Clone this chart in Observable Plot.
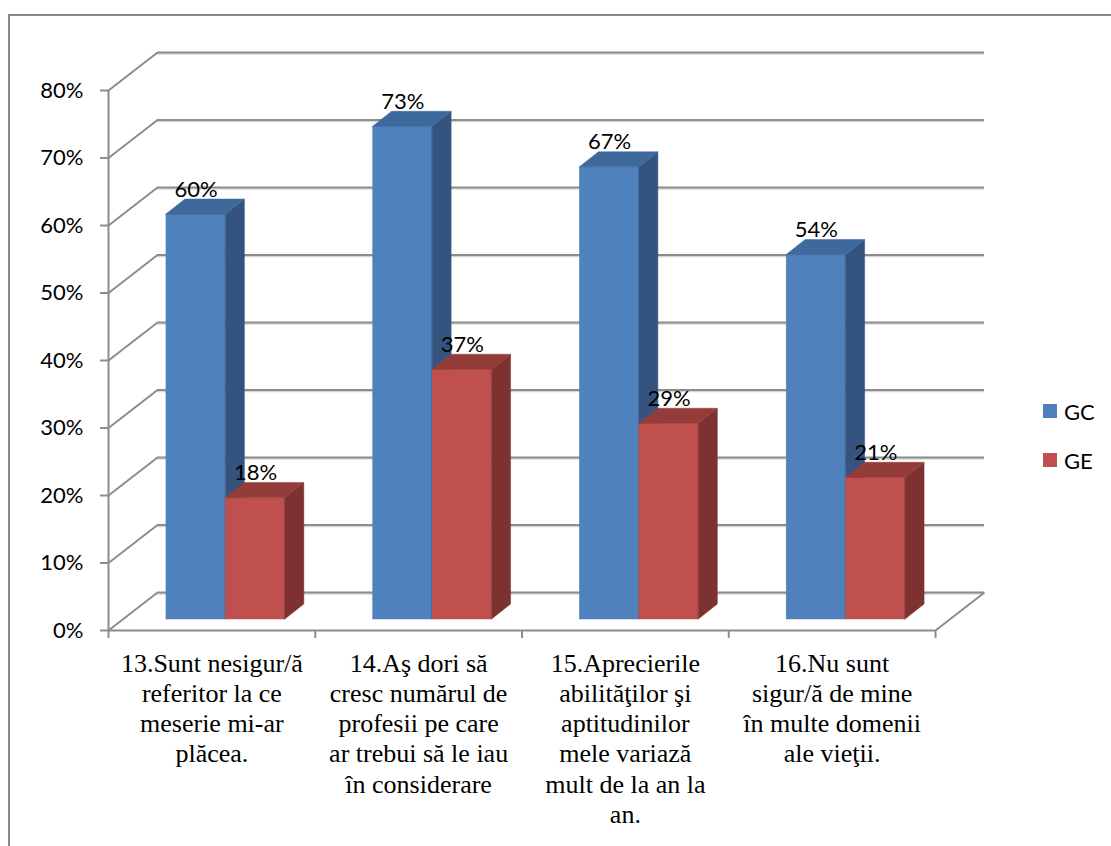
<!DOCTYPE html>
<html>
<head>
<meta charset="utf-8">
<script src="https://cdn.jsdelivr.net/npm/d3@7"></script>
<script src="https://cdn.jsdelivr.net/npm/@observablehq/plot@0.6"></script>
<style>
  html, body { margin: 0; padding: 0; width: 1111px; height: 846px; overflow: hidden; background: #fff; }
  #wrap { position: relative; width: 1111px; height: 846px; overflow: hidden; }
  #border { position: absolute; left: 8px; top: 14px; width: 1300px; height: 1000px; border: 2px solid #8a8a8a; }
  #chart { position: absolute; left: 0; top: 0; }
  .legend { position: absolute; left: 1043px; font-family: Lato, sans-serif; font-size: 22px; color: #000; display: flex; align-items: center; height: 24px; }
  .legend .sw { display: inline-block; width: 14px; height: 14px; margin-right: 7px; }
</style>
</head>
<body>
<div id="wrap">
  <div id="border"></div>
  <div id="chart"></div>
  <div class="legend" style="top:399px"><span class="sw" style="background:#4F81BD"></span>GC</div>
  <div class="legend" style="top:448px"><span class="sw" style="background:#C0504D"></span>GE</div>
</div>
<script>
// ---- data ----
const categories = [
  "13.Sunt nesigur/ă\nreferitor la ce\nmeserie mi-ar\nplăcea.",
  "14.Aş dori să\ncresc numărul de\nprofesii pe care\nar trebui să le iau\nîn considerare",
  "15.Aprecierile\nabilităţilor şi\naptitudinilor\nmele variază\nmult de la an la\nan.",
  "16.Nu sunt\nsigur/ă de mine\nîn multe domenii\nale vieţii."
];
const seriesNames = ["GC", "GE"];
const gcValues = [0.60, 0.73, 0.67, 0.54];
const geValues = [0.18, 0.37, 0.29, 0.21];
const yTicks = [0, 0.1, 0.2, 0.3, 0.4, 0.5, 0.6, 0.7, 0.8];

// ---- styling / geometry ----
const palette = {
  GC: { front: "#4F81BD", side: "#34547F", top: "#3E699D" },
  GE: { front: "#C0504D", side: "#7D3130", top: "#943C3A" }
};
const gridColor = "#8c8c8c";
const xRangePx = [108, 935], yRangePx = [630, 90];
const kx = 4 / (xRangePx[1] - xRangePx[0]);      // data units per px (x)
const ky = 0.8 / (yRangePx[0] - yRangePx[1]);    // data units per px (y)
const wall = { dx: 49, dy: 38 };   // back-wall depth (px)
const plane = { dx: 14, dy: 11 };  // bar plane offset (px)
const depth = { dx: 19, dy: 15 };  // bar depth (px)
const barW = 0.2875;

const seriesValues = [gcValues, geValues];
const bars = [];
seriesNames.forEach((s, j) => {
  seriesValues[j].forEach((v, i) => {
    const xl = i + 0.5 - barW + j * barW;
    bars.push({ s, i, v, xl, xr: xl + barW });
  });
});

const barMarks = [];
seriesNames.forEach((s) => {
  const b = bars.filter(d => d.s === s);
  const side = b.flatMap(d => [
    { z: d.i, x: d.xr, y1: 0, y2: d.v },
    { z: d.i, x: d.xr + depth.dx * kx, y1: depth.dy * ky, y2: d.v + depth.dy * ky }
  ]);
  const top = b.flatMap(d => [
    { z: d.i, y: d.v, x1: d.xl, x2: d.xr },
    { z: d.i, y: d.v + depth.dy * ky, x1: d.xl + depth.dx * kx, x2: d.xr + depth.dx * kx }
  ]);
  barMarks.push(
    Plot.rect(b, { x1: "xl", x2: "xr", y1: 0, y2: "v", dx: plane.dx, dy: -plane.dy, fill: palette[s].front, stroke: palette[s].front, strokeWidth: 0.5 }),
    Plot.areaY(side, { x: "x", y1: "y1", y2: "y2", z: "z", dx: plane.dx, dy: -plane.dy, fill: palette[s].side, stroke: palette[s].side, strokeWidth: 0.5 }),
    Plot.areaX(top, { y: "y", x1: "x1", x2: "x2", z: "z", dx: plane.dx, dy: -plane.dy, fill: palette[s].top, stroke: palette[s].top, strokeWidth: 0.5 })
  );
});

const chart = Plot.plot({
  width: 1111,
  height: 846,
  marginLeft: xRangePx[0],
  marginRight: 1111 - xRangePx[1],
  marginTop: yRangePx[1],
  marginBottom: 846 - yRangePx[0],
  style: { fontFamily: "Lato, sans-serif", fontSize: "22px", background: "transparent", color: "#000", overflow: "visible" },
  x: { domain: [0, 4], label: null },
  y: { domain: [0, 0.8], label: null },
  marks: [
    // back wall grid (with soft shadow)
    Plot.ruleY(yTicks, { x1: 0, x2: 4, dx: wall.dx, dy: -wall.dy + 1.6, stroke: "#d6d6d6", strokeWidth: 1.5 }),
    Plot.ruleY(yTicks, { x1: 0, x2: 4, dx: wall.dx, dy: -wall.dy, stroke: gridColor, strokeWidth: 2 }),
    // side wall diagonals
    Plot.link(yTicks, { x1: 0, y1: d => d, x2: wall.dx * kx, y2: d => d + wall.dy * ky, stroke: gridColor, strokeWidth: 2 }),
    // floor front edge + right diagonal
    Plot.ruleY([0], { x1: 0, x2: 4, stroke: gridColor, strokeWidth: 2 }),
    Plot.link([0], { x1: 4, y1: 0, x2: 4 + wall.dx * kx, y2: wall.dy * ky, stroke: gridColor, strokeWidth: 2 }),
    // value axis line
    Plot.ruleX([0], { y1: 0, y2: 0.8, stroke: gridColor, strokeWidth: 2 }),
    Plot.axisY(yTicks, { tickSize: 8, tickPadding: 17, tickFormat: d3.format(".0%"), stroke: gridColor, strokeWidth: 2, fill: "#000", fontSize: 22, label: null }),
    Plot.axisX([0, 1, 2, 3, 4], { tickSize: 8, tickFormat: () => "", stroke: gridColor, strokeWidth: 2, label: null }),
    ...barMarks,
    // data labels
    Plot.text(bars, { x: d => (d.xl + d.xr) / 2, y: "v", text: d => d3.format(".0%")(d.v), dx: plane.dx, dy: -36, fontSize: 22, fill: "#000" }),
    // category labels
    Plot.text(categories, { x: (d, i) => i + 0.5, y: 0, text: d => d, lineAnchor: "top", dy: 20, lineHeight: 1.16, fontFamily: "Liberation Serif, Times New Roman, serif", fontSize: 26, fill: "#000" })
  ]
});
document.getElementById("chart").appendChild(chart);
</script>
</body>
</html>
